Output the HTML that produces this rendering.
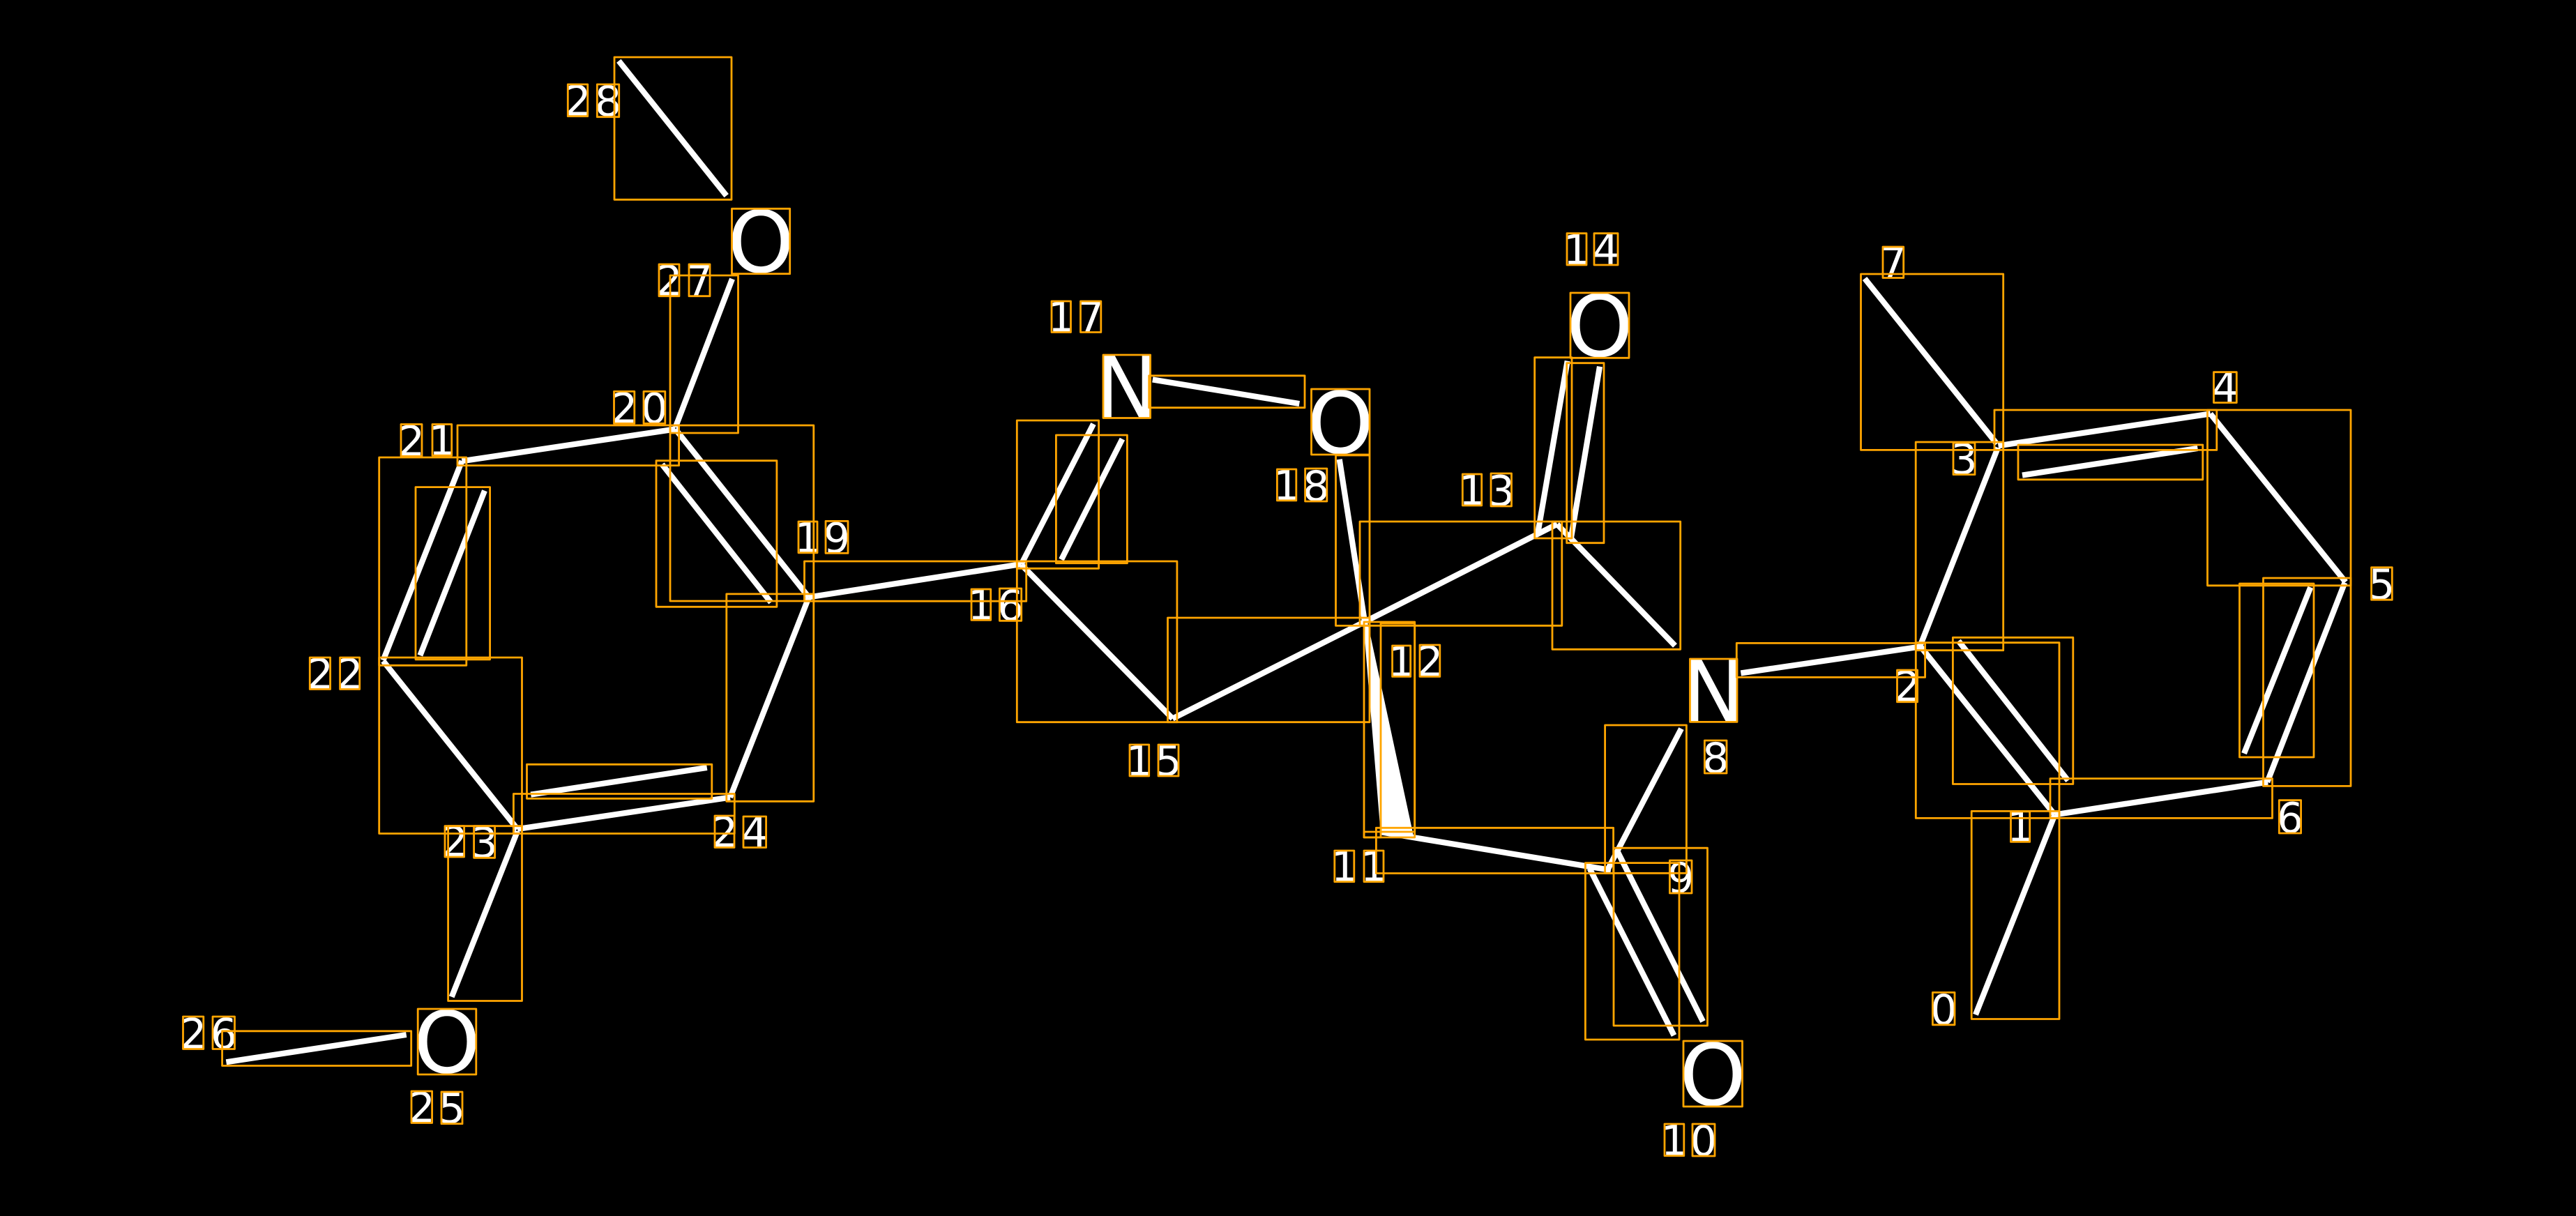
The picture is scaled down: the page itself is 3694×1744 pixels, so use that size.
<!DOCTYPE html>
<html>
<head>
<meta charset="utf-8">
<style>
html,body{margin:0;padding:0;background:#000;width:3694px;height:1744px;overflow:hidden}
svg{display:block}
.b{stroke:#fff;stroke-width:8.2;fill:none;stroke-linecap:butt}
.r{stroke:#FFA500;stroke-width:2.8;fill:none;stroke-linejoin:round}
text{fill:#fff;font-family:"DejaVu Sans",sans-serif;text-anchor:middle}
.d{font-size:60px}
.a{font-size:122px}
</style>
</head>
<body>
<svg width="3694" height="1744" viewBox="0 0 3694 1744" xmlns="http://www.w3.org/2000/svg">
<rect width="3694" height="1744" fill="#000"/>
<path class="b" d="M887.3 87.3L1041.7 280.7"/>
<path class="b" d="M1050 400L968.5 613"/>
<path class="b" d="M662.4 661.3L968.5 615.4"/>
<path class="b" d="M968.5 615.4L1159.8 856.5"/>
<path class="b" d="M949.4 665.9L1105.6 864"/>
<path class="b" d="M662.4 661L549.5 947"/>
<path class="b" d="M695 703.8L602.4 940"/>
<path class="b" d="M549.5 948L742 1189"/>
<path class="b" d="M742 1189L1047 1143.6"/>
<path class="b" d="M761.2 1139.6L1013.8 1100.9"/>
<path class="b" d="M1047 1143.6L1159.8 856.8"/>
<path class="b" d="M742 1192L647.7 1429.8"/>
<path class="b" d="M324.4 1523.3L582.7 1484"/>
<path class="b" d="M1159.8 856.5L1464.7 809"/>
<path class="b" d="M1464.7 809L1568 608"/>
<path class="b" d="M1522 802.6L1609.4 629.6"/>
<path class="b" d="M1652.8 544.4L1863.3 579"/>
<path class="b" d="M1920.7 658.7L1957 891.8"/>
<path class="b" d="M1464.7 810L1681.5 1030.6"/>
<path class="b" d="M1681.5 1030.6L1957 891.8"/>
<path class="b" d="M1957 891.8L2233 751.7"/>
<path class="b" d="M2233 752L2402 926"/>
<path class="b" d="M2247.7 517.7L2205 766"/>
<path class="b" d="M2294 525.7L2252.5 774"/>
<path class="b" d="M1981 1193.5L2310 1248"/>
<path class="b" d="M2411 1045L2305 1248"/>
<path class="b" d="M2279.6 1245.7L2400.5 1485"/>
<path class="b" d="M2319.4 1221L2442 1465"/>
<path class="b" d="M2496.4 965.4L2753.4 927.5"/>
<path class="b" d="M2674 399.5L2863.6 636.7"/>
<path class="b" d="M2865.5 639.3L3169.7 593.4"/>
<path class="b" d="M2900 681.6L3151.5 642.9"/>
<path class="b" d="M3169.7 593.4L3363.6 834.7"/>
<path class="b" d="M2865 642L2753 927.5"/>
<path class="b" d="M3362.4 835.7L3251.3 1121.6"/>
<path class="b" d="M3313.3 842.3L3218 1080.6"/>
<path class="b" d="M2753.6 926.7L2946.4 1168.4"/>
<path class="b" d="M2808.5 919.2L2965.6 1119.5"/>
<path class="b" d="M2946.4 1168.4L3252.2 1121.6"/>
<path class="b" d="M2946.4 1169L2833 1455.3"/>
<polygon points="1955,892 1961,892 2027,1199 1980,1197" fill="#fff"/>

<text class="a" x="1091.2" y="390.5">O</text>
<text class="a" x="641" y="1538.5">O</text>
<text class="a" x="1615.8" y="598.5">N</text>
<text class="a" x="1922.2" y="649.8">O</text>
<text class="a" x="2294" y="511">O</text>
<text class="a" x="2457.2" y="1034.4">N</text>
<text class="a" x="2456.2" y="1584.8">O</text>

<text class="d" x="828.5" y="165.7">2</text><text class="d" x="872" y="166.2">8</text>
<text class="d" x="959.5" y="423.7">2</text><text class="d" x="1003" y="423.7">7</text>
<text class="d" x="895.2" y="606.4">2</text><text class="d" x="938.4" y="606.4">0</text>
<text class="d" x="590" y="653.4">2</text><text class="d" x="633.8" y="652.3">1</text>
<text class="d" x="1158.5" y="791.8">1</text><text class="d" x="1200" y="792.4">9</text>
<text class="d" x="459" y="987.5">2</text><text class="d" x="501.6" y="987.5">2</text>
<text class="d" x="651.8" y="1228">2</text><text class="d" x="694.6" y="1229.3">3</text>
<text class="d" x="1039" y="1214.5">2</text><text class="d" x="1082.3" y="1214.5">4</text>
<text class="d" x="604.8" y="1609.5">2</text><text class="d" x="648" y="1610.7">5</text>
<text class="d" x="277.2" y="1503.5">2</text><text class="d" x="320.8" y="1503.5">6</text>
<text class="d" x="1521.8" y="475.5">1</text><text class="d" x="1564.2" y="475.5">7</text>
<text class="d" x="1406.8" y="888.3">1</text><text class="d" x="1449" y="889.3">6</text>
<text class="d" x="1845.1" y="716.9">1</text><text class="d" x="1887.2" y="718">8</text>
<text class="d" x="2111" y="724">1</text><text class="d" x="2152.8" y="725">3</text>
<text class="d" x="2009.7" y="969.4">1</text><text class="d" x="2050.4" y="969.4">2</text>
<text class="d" x="1633.8" y="1112">1</text><text class="d" x="1675.5" y="1112">5</text>
<text class="d" x="2261" y="379">1</text><text class="d" x="2303" y="379">4</text>
<text class="d" x="1927.8" y="1263.6">1</text><text class="d" x="1970" y="1263.6">1</text>
<text class="d" x="2400.9" y="1656.6">1</text><text class="d" x="2443" y="1657">0</text>
<text class="d" x="2410.2" y="1280">9</text>
<text class="d" x="2460.2" y="1108">8</text>
<text class="d" x="2714.8" y="397.5">7</text>
<text class="d" x="3190.9" y="576.5">4</text>
<text class="d" x="3415.4" y="859.2">5</text>
<text class="d" x="2816.5" y="679.6">3</text>
<text class="d" x="2735" y="1005.7">2</text>
<text class="d" x="2897.1" y="1206.4">1</text>
<text class="d" x="3284" y="1194">6</text>
<text class="d" x="2787.2" y="1468.8">0</text>

<path class="r" d="M881 82H1049V286.3H881Z"/>
<path class="r" d="M961 395H1058.5V621H961Z"/>
<path class="r" d="M656 610H973.6V667.6H656Z"/>
<path class="r" d="M961 610H1166.8V862H961Z"/>
<path class="r" d="M941 660.7H1113.9V870.3H941Z"/>
<path class="r" d="M543.7 656H668.8V954.3H543.7Z"/>
<path class="r" d="M596 698.6H702.6V945.8H596Z"/>
<path class="r" d="M543.7 943H748.5V1195.5H543.7Z"/>
<path class="r" d="M736.4 1138.5H1053.3V1195.5H736.4Z"/>
<path class="r" d="M755.5 1096.3H1020.8V1145.3H755.5Z"/>
<path class="r" d="M1041.8 851.9H1166.8V1149.3H1041.8Z"/>
<path class="r" d="M642.6 1184.7H748.5V1435.5H642.6Z"/>
<path class="r" d="M318.6 1478.8H589.7V1528.5H318.6Z"/>
<path class="r" d="M1153.5 805H1471.7V862.2H1153.5Z"/>
<path class="r" d="M1458.3 603H1575.6V815.3H1458.3Z"/>
<path class="r" d="M1514.4 624H1616.4V807.7H1514.4Z"/>
<path class="r" d="M1647.7 538.8H1871V584.7H1647.7Z"/>
<path class="r" d="M1915.5 653H1964V897.4H1915.5Z"/>
<path class="r" d="M1458.3 805H1687.9V1035.7H1458.3Z"/>
<path class="r" d="M1674.5 886H1964V1035.7H1674.5Z"/>
<path class="r" d="M1950 748H2239.8V897.3H1950Z"/>
<path class="r" d="M2226 748H2409.7V931.3H2226Z"/>
<path class="r" d="M2200.7 512.7H2254V772H2200.7Z"/>
<path class="r" d="M2246.7 520.7H2300V778.7H2246.7Z"/>
<path class="r" d="M1956 892H2028.7V1201H1956Z"/>
<path class="r" d="M1980 894H2028.7V1193H1956V1201H1980Z"/>
<path class="r" d="M1973.4 1187.3H2313.6V1252.5H1973.4Z"/>
<path class="r" d="M2301.6 1040H2418.4V1252.3H2301.6Z"/>
<path class="r" d="M2273.4 1237.6H2408V1491H2273.4Z"/>
<path class="r" d="M2314 1216.2H2448.5V1471H2314Z"/>
<path class="r" d="M2490.3 922.4H2760.6V971.4H2490.3Z"/>
<path class="r" d="M2668.5 393H2872.7V645.4H2668.5Z"/>
<path class="r" d="M2860 588H3178.8V645.4H2860Z"/>
<path class="r" d="M2894 638H3158.8V687.8H2894Z"/>
<path class="r" d="M3165.5 588H3371V839.8H3165.5Z"/>
<path class="r" d="M2747.2 634H2872.7V932.7H2747.2Z"/>
<path class="r" d="M3245.5 829H3371V1127.4H3245.5Z"/>
<path class="r" d="M3211.5 837H3318V1086H3211.5Z"/>
<path class="r" d="M2747.3 921.7H2953V1173.4H2747.3Z"/>
<path class="r" d="M2800.4 914.3H2972.8V1124.5H2800.4Z"/>
<path class="r" d="M2940 1116.6H3258.5V1173.4H2940Z"/>
<path class="r" d="M2827.2 1163.4H2953V1461.5H2827.2Z"/>

<path class="r" d="M1049.5 299.3H1132.7V392.7H1049.5Z"/>
<path class="r" d="M599.2 1447H682.8V1541H599.2Z"/>
<path class="r" d="M1582 509H1649.6V599.5H1582Z"/>
<path class="r" d="M1880.5 558H1964V652H1880.5Z"/>
<path class="r" d="M2252 420H2336V513.3H2252Z"/>
<path class="r" d="M2423.5 945H2491V1035.4H2423.5Z"/>
<path class="r" d="M2414 1493H2498.5V1587H2414Z"/>

<path class="r" d="M814.3 121H842.7V166.7H814.3Z"/><path class="r" d="M856.3 121H887.7V167.7H856.3Z"/>
<path class="r" d="M945 379H974V424.7H945Z"/><path class="r" d="M988 379H1018V424.7H988Z"/>
<path class="r" d="M880.5 561.4H909.8V607.4H880.5Z"/><path class="r" d="M923 561.4H953.8V607.4H923Z"/>
<path class="r" d="M575 608.5H605V654.4H575Z"/><path class="r" d="M620 608.5H647.7V653.3H620Z"/>
<path class="r" d="M1145 748H1172V792.8H1145Z"/><path class="r" d="M1184 747.4H1216V793.4H1184Z"/>
<path class="r" d="M444.3 943H473.6V988.5H444.3Z"/><path class="r" d="M487.6 943H515.7V988.5H487.6Z"/>
<path class="r" d="M638 1184.7H665.6V1229H638Z"/><path class="r" d="M679.6 1184.7H709.6V1230.3H679.6Z"/>
<path class="r" d="M1025 1170H1053V1215.5H1025Z"/><path class="r" d="M1066 1171H1098.6V1215.5H1066Z"/>
<path class="r" d="M590 1565H619.6V1610.5H590Z"/><path class="r" d="M633 1566H663V1611.7H633Z"/>
<path class="r" d="M262.5 1458H291.8V1504.5H262.5Z"/><path class="r" d="M305 1458H336.5V1504.5H305Z"/>
<path class="r" d="M1508 432H1535.5V476.5H1508Z"/><path class="r" d="M1549.5 432H1578.8V476.5H1549.5Z"/>
<path class="r" d="M1393 845H1420.7V889.3H1393Z"/><path class="r" d="M1433.4 844H1464.7V890.3H1433.4Z"/>
<path class="r" d="M1831.4 673H1858.8V717.9H1831.4Z"/><path class="r" d="M1871.6 672H1902.8V719H1871.6Z"/>
<path class="r" d="M2097.3 680H2124.7V725H2097.3Z"/><path class="r" d="M2138 679H2167.5V726H2138Z"/>
<path class="r" d="M1996.6 926H2022.7V970.4H1996.6Z"/><path class="r" d="M2036 925H2064.8V970.4H2036Z"/>
<path class="r" d="M1620 1068H1647.7V1113H1620Z"/><path class="r" d="M1661 1068H1690V1113H1661Z"/>
<path class="r" d="M2247 334.7H2275V380H2247Z"/><path class="r" d="M2286 334.7H2320V380H2286Z"/>
<path class="r" d="M1913.8 1220H1941.8V1264.6H1913.8Z"/><path class="r" d="M1956 1220H1984V1264.6H1956Z"/>
<path class="r" d="M2387 1612H2414.8V1657.6H2387Z"/><path class="r" d="M2427 1612H2459V1658H2427Z"/>
<path class="r" d="M2394.4 1234H2426V1281H2394.4Z"/>
<path class="r" d="M2444.4 1062H2476V1109H2444.4Z"/>
<path class="r" d="M2700 354H2729.7V398.5H2700Z"/>
<path class="r" d="M3174.5 533.7H3207.3V577.5H3174.5Z"/>
<path class="r" d="M3400.6 813.8H3430.3V860.2H3400.6Z"/>
<path class="r" d="M2801 635H2832V680.6H2801Z"/>
<path class="r" d="M2720.5 961H2749.6V1006.7H2720.5Z"/>
<path class="r" d="M2883.5 1163.8H2910.7V1207.4H2883.5Z"/>
<path class="r" d="M3268.3 1147.7H3299.6V1195H3268.3Z"/>
<path class="r" d="M2771.4 1423.4H2803V1469.8H2771.4Z"/>
</svg>
</body>
</html>
